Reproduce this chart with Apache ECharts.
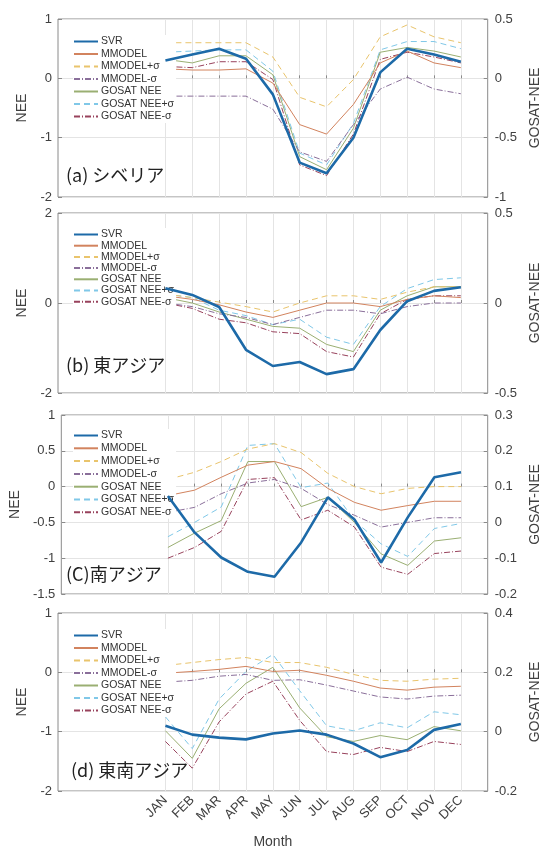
<!DOCTYPE html>
<html>
<head>
<meta charset="utf-8">
<script src="https://cdn.jsdelivr.net/npm/echarts@6/dist/echarts.min.js"></script>
<style>html,body{margin:0;padding:0;background:#fff;}#c{width:550px;height:850px;}</style>
</head>
<body>
<div id="c"></div>
<script>
// ---- data ----
const months = ['JAN','FEB','MAR','APR','MAY','JUN','JUL','AUG','SEP','OCT','NOV','DEC'];
const padBefore = [' ', '  ', '   ', '    '];
const padAfter = ['     '];
const seriesNames = ['SVR','MMODEL','MMODEL+σ','MMODEL-σ','GOSAT NEE','GOSAT NEE+σ','GOSAT NEE-σ'];
const panelLabels = ['(a) シベリア', '(b) 東アジア', '(C)南アジア', '(d) 東南アジア'];

// (a) Siberia
const a_SVR      = [0.30, 0.40, 0.50, 0.33, -0.27, -1.42, -1.60, -1.00, 0.10, 0.50, 0.40, 0.28];
const a_MMODEL   = [0.08, 0.07, 0.07, 0.08, -0.04, -0.39, -0.47, -0.22, 0.13, 0.23, 0.13, 0.09];
const a_MMODELp  = [0.30, 0.30, 0.30, 0.30, 0.18, -0.16, -0.24, -0.01, 0.35, 0.45, 0.35, 0.30];
const a_MMODELm  = [-0.15, -0.15, -0.15, -0.15, -0.26, -0.62, -0.70, -0.39, -0.09, 0.01, -0.09, -0.13];
const a_GOSAT    = [0.16, 0.13, 0.19, 0.19, 0.03, -0.66, -0.77, -0.42, 0.22, 0.26, 0.23, 0.18];
const a_GOSATp   = [0.22, 0.23, 0.24, 0.24, 0.06, -0.63, -0.73, -0.38, 0.24, 0.31, 0.31, 0.25];
const a_GOSATm   = [0.10, 0.09, 0.14, 0.14, -0.01, -0.73, -0.82, -0.47, 0.16, 0.22, 0.18, 0.13];

// (b) East Asia
const b_SVR      = [0.33, 0.18, -0.09, -1.04, -1.40, -1.31, -1.58, -1.47, -0.60, 0.04, 0.27, 0.35];
const b_MMODEL   = [0.04, 0.02, -0.01, -0.05, -0.08, -0.04, 0.00, 0.00, -0.02, 0.02, 0.04, 0.03];
const b_MMODELp  = [0.05, 0.03, 0.005, -0.02, -0.05, 0.00, 0.04, 0.04, 0.02, 0.06, 0.09, 0.09];
const b_MMODELm  = [0.00, -0.02, -0.06, -0.08, -0.12, -0.08, -0.04, -0.04, -0.06, -0.02, 0.00, 0.00];
const b_GOSAT    = [0.03, 0.00, -0.05, -0.09, -0.13, -0.14, -0.23, -0.27, -0.04, 0.04, 0.09, 0.09];
const b_GOSATp   = [0.05, 0.03, -0.04, -0.07, -0.12, -0.09, -0.19, -0.23, -0.02, 0.08, 0.13, 0.14];
const b_GOSATm   = [0.00, -0.03, -0.09, -0.11, -0.16, -0.17, -0.27, -0.30, -0.06, 0.02, 0.04, 0.04];

// (c) South Asia
const c_SVR      = [-0.13, -0.64, -0.99, -1.19, -1.26, -0.78, -0.15, -0.46, -1.06, -0.43, 0.13, 0.20];
const c_MMODEL   = [0.075, 0.09, 0.126, 0.16, 0.17, 0.15, 0.095, 0.056, 0.034, 0.047, 0.059, 0.059];
const c_MMODELp  = [0.12, 0.14, 0.17, 0.205, 0.22, 0.195, 0.137, 0.10, 0.08, 0.095, 0.10, 0.10];
const c_MMODELm  = [0.028, 0.042, 0.08, 0.11, 0.12, 0.095, 0.05, 0.02, -0.013, 0.00, 0.013, 0.013];
const c_GOSAT    = [-0.07, -0.03, 0.005, 0.17, 0.17, 0.044, 0.07, 0.00, -0.088, -0.12, -0.052, -0.043];
const c_GOSATp   = [-0.04, 0.00, 0.043, 0.215, 0.22, 0.097, 0.11, 0.005, -0.06, -0.095, -0.017, -0.003];
const c_GOSATm   = [-0.10, -0.07, -0.025, 0.12, 0.125, 0.007, 0.034, -0.013, -0.125, -0.145, -0.087, -0.08];

// (d) Southeast Asia
const d_SVR      = [-0.90, -1.05, -1.10, -1.13, -1.03, -0.98, -1.05, -1.20, -1.43, -1.31, -0.97, -0.87];
const d_MMODEL   = [0.197, 0.203, 0.21, 0.22, 0.203, 0.207, 0.19, 0.17, 0.147, 0.14, 0.15, 0.153];
const d_MMODELp  = [0.223, 0.233, 0.243, 0.25, 0.233, 0.233, 0.217, 0.193, 0.173, 0.17, 0.177, 0.18];
const d_MMODELm  = [0.167, 0.173, 0.187, 0.193, 0.173, 0.175, 0.157, 0.137, 0.117, 0.11, 0.12, 0.123];
const d_GOSAT    = [0.003, -0.09, 0.077, 0.163, 0.217, 0.08, -0.017, -0.033, -0.013, -0.027, 0.017, 0.003];
const d_GOSATp   = [0.05, -0.057, 0.11, 0.203, 0.26, 0.138, 0.02, 0.003, 0.03, 0.013, 0.067, 0.057];
const d_GOSATm   = [-0.033, -0.123, 0.033, 0.127, 0.17, 0.038, -0.067, -0.077, -0.053, -0.067, -0.033, -0.043];

// axis ticks (left NEE, right GOSAT-NEE)
const leftAxes  = [{min:-2, max:1, interval:1}, {min:-2, max:2, interval:2}, {min:-1.5, max:1, interval:0.5}, {min:-2, max:1, interval:1}];
const rightAxes = [{min:-1, max:0.5, interval:0.5}, {min:-0.5, max:0.5, interval:0.5}, {min:-0.2, max:0.3, interval:0.1}, {min:-0.2, max:0.4, interval:0.2}];

const panels = [
  [a_SVR, a_MMODEL, a_MMODELp, a_MMODELm, a_GOSAT, a_GOSATp, a_GOSATm],
  [b_SVR, b_MMODEL, b_MMODELp, b_MMODELm, b_GOSAT, b_GOSATp, b_GOSATm],
  [c_SVR, c_MMODEL, c_MMODELp, c_MMODELm, c_GOSAT, c_GOSATp, c_GOSATm],
  [d_SVR, d_MMODEL, d_MMODELp, d_MMODELm, d_GOSAT, d_GOSATp, d_GOSATm]
];

// ---- styles ----
const categories = padBefore.concat(months, padAfter);
const styles = [
  {color:'#1d6aa8', width:2.6, type:'solid'},
  {color:'#d2835e', width:1, type:'solid'},
  {color:'#e9c46c', width:1, type:[6,4]},
  {color:'#8a6f9a', width:1, type:[6,2,1,2]},
  {color:'#9aaf72', width:1, type:'solid'},
  {color:'#80c8e8', width:1, type:[6,4]},
  {color:'#98425c', width:1, type:[6,2,1,2]}
];
const gridTops = [19, 213, 415, 613];
const gridHeights = [178, 180, 179, 180];
const legendTops = [35, 228, 429, 629];
const legendGaps = [1.5, 0.2, 1.8, 1.5];
const labelCenters = [178, 368, 577, 773];
const font = 'Liberation Sans, Arial, sans-serif';
const txt = '#404040';

const isMonth = (i, v) => String(v).trim() !== '';

const option = {animation:false, backgroundColor:'#fff', grid:[], xAxis:[], yAxis:[], series:[], legend:[], title:[]};

for (let p = 0; p < 4; p++) {
  option.grid.push({left:58, right:60, top:gridTops[p], height:gridHeights[p], show:true, borderColor:'#8a8a8a', borderWidth:1, backgroundColor:'transparent'});
  const last = p === 3;
  option.xAxis.push({
    type:'category', gridIndex:p, data:categories, boundaryGap:false,
    axisLine:{show:false},
    axisTick:{show:true, inside:true, length:3, interval:isMonth, lineStyle:{color:'#8a8a8a'}},
    splitLine:{show:true, interval:isMonth, lineStyle:{color:'#e4e4e4', width:1}},
    axisLabel:{show:last, interval:isMonth, rotate:45, fontSize:13, color:txt, fontFamily:font, margin:7},
    name: last ? 'Month' : '', nameLocation:'middle', nameGap:44,
    nameTextStyle:{fontSize:14, color:txt, fontFamily:font}
  });
  option.yAxis.push({
    type:'value', gridIndex:p, position:'left', min:leftAxes[p].min, max:leftAxes[p].max, interval:leftAxes[p].interval,
    axisLine:{show:false}, axisTick:{show:true, inside:true, length:4, lineStyle:{color:'#8a8a8a'}},
    splitLine:{show:true, lineStyle:{color:'#e4e4e4', width:1}},
    axisLabel:{fontSize:13, color:txt, fontFamily:font, margin:6},
    name:'NEE', nameLocation:'middle', nameGap:24, nameTextStyle:{fontSize:14, color:txt, fontFamily:font}
  });
  option.yAxis.push({
    type:'value', gridIndex:p, position:'right', min:rightAxes[p].min, max:rightAxes[p].max, interval:rightAxes[p].interval,
    axisLine:{show:false}, axisTick:{show:true, inside:true, length:4, lineStyle:{color:'#8a8a8a'}},
    splitLine:{show:false},
    axisLabel:{fontSize:13, color:txt, fontFamily:font, margin:7},
    name:'GOSAT-NEE', nameLocation:'middle', nameGap:40, nameRotate:90, nameTextStyle:{fontSize:14, color:txt, fontFamily:font}
  });
  // draw in reverse so SVR is on top
  for (let s = seriesNames.length - 1; s >= 0; s--) {
    const vals = panels[p][s];
    option.series.push({
      type:'line', name:seriesNames[s], xAxisIndex:p, yAxisIndex: s === 0 ? 2*p : 2*p + 1,
      data: months.map((m, i) => [m, vals[i]]),
      showSymbol:false, symbol:'none', z: s === 0 ? 5 : 3,
      lineStyle:{color:styles[s].color, width:styles[s].width, type:styles[s].type},
      itemStyle:{color:styles[s].color}
    });
  }
  option.legend.push({
    data:seriesNames, orient:'vertical', left:73, top:legendTops[p],
    itemWidth:24, itemHeight:10, itemGap:legendGaps[p], padding:[1,2,1,0],
    backgroundColor:'#fff', selectedMode:false,
    itemStyle:{opacity:0, borderWidth:0},
    textStyle:{fontSize:10.5, color:'#333', fontFamily:font, lineHeight:10, padding:[0,0,0,-2]}
  });
  option.title.push({
    text:panelLabels[p], left: p === 3 ? 71 : 66, top:labelCenters[p] - 12,
    textStyle:{fontSize:18, fontWeight:'normal', color:'#222', fontFamily:'Noto Sans CJK JP, sans-serif'}, padding:0
  });
}

const chart = echarts.init(document.getElementById('c'), null, {renderer:'canvas'});
chart.setOption(option);
</script>
</body>
</html>
